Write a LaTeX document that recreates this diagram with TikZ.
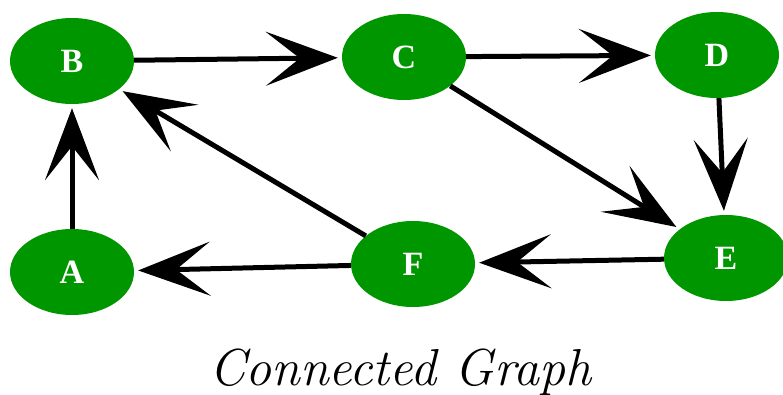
\documentclass[tikz,border=0pt]{standalone}
\usepackage{fontspec}
\setmainfont{Liberation Serif}
\newfontfamily\capfont{Latin Modern Roman}
\usetikzlibrary{arrows.meta,shapes.geometric}
\definecolor{nodegreen}{RGB}{0,150,0}
\begin{document}
\begin{tikzpicture}[x=1pt,y=-1pt,
  vertex/.style={ellipse, fill=nodegreen, minimum width=124pt, minimum height=86pt,
    inner sep=0pt, text=white, font=\fontsize{34}{34}\selectfont\bfseries},
  edge/.style={line width=5pt, -{Stealth[length=72pt,width=54pt,inset=34pt]},
    shorten >=4pt},
  caption/.style={font=\capfont\fontsize{52}{52}\selectfont\itshape}]
\useasboundingbox (0,0) rectangle (783,395);
\node[vertex] (B) at (72,61) {B};
\node[vertex] (C) at (404,57) {C};
\node[vertex] (D) at (717,55) {D};
\node[vertex] (A) at (72,272) {A};
\node[vertex] (F) at (413,264) {F};
\node[vertex] (E) at (726,258) {E};
\draw[edge] (B) -- (C);
\draw[edge] (C) -- (D);
\draw[edge] (D) -- (E);
\draw[edge] (C) -- (E);
\draw[edge] (E) -- (F);
\draw[edge] (F) -- (A);
\draw[edge] (F) -- (B);
\draw[edge] (A) -- (B);
\node[caption] (cap) at (400,372) {Connected Graph};
\end{tikzpicture}
\end{document}
